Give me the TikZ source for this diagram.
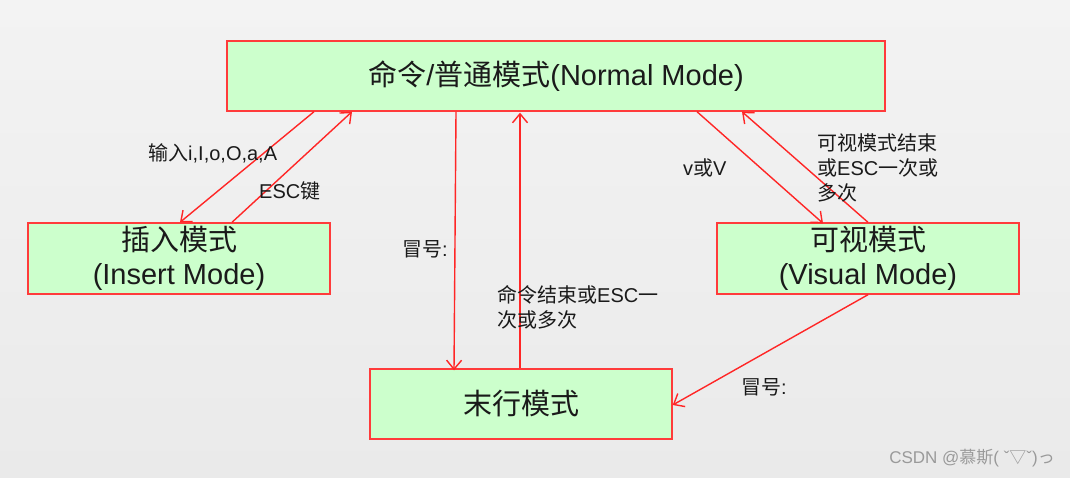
\documentclass[tikz,border=0pt]{standalone}
\usepackage{fontspec}
\setmainfont{Liberation Sans}
\newfontfamily\cjk{Noto Sans CJK SC}
\usetikzlibrary{arrows.meta}
\definecolor{boxfill}{HTML}{CCFFCC}
\definecolor{boxline}{HTML}{FF3B3B}
\definecolor{arrred}{HTML}{FF2626}
\definecolor{bgtop}{HTML}{F3F3F3}
\definecolor{bgbot}{HTML}{EAEAEA}
\definecolor{txt}{HTML}{1A1A1A}
\definecolor{wm}{HTML}{9A9A9A}
\tikzset{
  modebox/.style={draw=boxline, fill=boxfill, line width=1.4pt, inner sep=0pt,
    align=center, text=txt, font=\fontsize{29}{34}\selectfont},
  arr/.style={draw=arrred, line width=1.4pt,
    -{Straight Barb[length=9pt,width=15pt,line width=1.4pt]}},
  lbl/.style={inner sep=0pt, text=txt, align=left, font=\fontsize{20}{25}\selectfont}
}
\begin{document}
\begin{tikzpicture}[x=1pt,y=-1pt]
\shade[top color=bgtop, bottom color=bgbot] (0,0) rectangle (1070,477);
\useasboundingbox (0,0) rectangle (1070,477);

\node[modebox, minimum width=658pt, minimum height=70pt] (normal) at (556,76)
  {{\cjk 命令}/{\cjk 普通模式}(Normal Mode)};
\node[modebox, minimum width=302pt, minimum height=71pt] (insert) at (179,258.5)
  {{\cjk 插入模式}\\(Insert Mode)};
\node[modebox, minimum width=302pt, minimum height=71pt] (visual) at (868,258.5)
  {{\cjk 可视模式}\\(Visual Mode)};
\node[modebox, minimum width=302pt, minimum height=70pt] (last) at (521,404)
  {{\cjk 末行模式}};

\draw[arr] ([xshift=-242pt]normal.south) -- ([xshift=1pt]insert.north);
\draw[arr] ([xshift=53pt]insert.north) -- ([xshift=-204pt]normal.south);
\draw[arr] ([xshift=-100pt]normal.south) -- ([xshift=-67pt,yshift=-2pt]last.north);
\draw[arr] ([xshift=-1pt]last.north) -- ([xshift=-36pt,yshift=-1pt]normal.south);
\draw[arr] ([xshift=141pt]normal.south) -- ([xshift=-45pt,yshift=-1pt]visual.north);
\draw[arr] (visual.north) -- ([xshift=186pt]normal.south);
\draw[arr] (visual.south) -- ([yshift=-1pt]last.east);

\node[lbl, anchor=west] (l1) at (148,153) {{\cjk 输入}i,I,o,O,a,A};
\node[lbl, anchor=west] (l2) at (259,191) {ESC{\cjk 键}};
\node[lbl, anchor=west] (l3) at (402,249) {{\cjk 冒号}:};
\node[lbl, anchor=west] (l4) at (497,307.5) {{\cjk 命令结束或}ESC{\cjk 一}\\{\cjk 次或多次}};
\node[lbl, anchor=west] (l5) at (683,168) {v{\cjk 或}V};
\node[lbl, anchor=west] (l6) at (817,168) {{\cjk 可视模式结束}\\{\cjk 或}ESC{\cjk 一次或}\\{\cjk 多次}};
\node[lbl, anchor=west] (l7) at (741,387) {{\cjk 冒号}:};
\node[inner sep=0pt, anchor=east, text=wm, font=\fontsize{17}{20}\selectfont] (wmk) at (1055,458)
  {CSDN @{\cjk 慕斯}( ˇ{\cjk ▽}ˇ){\cjk っ}};
\end{tikzpicture}
\end{document}
